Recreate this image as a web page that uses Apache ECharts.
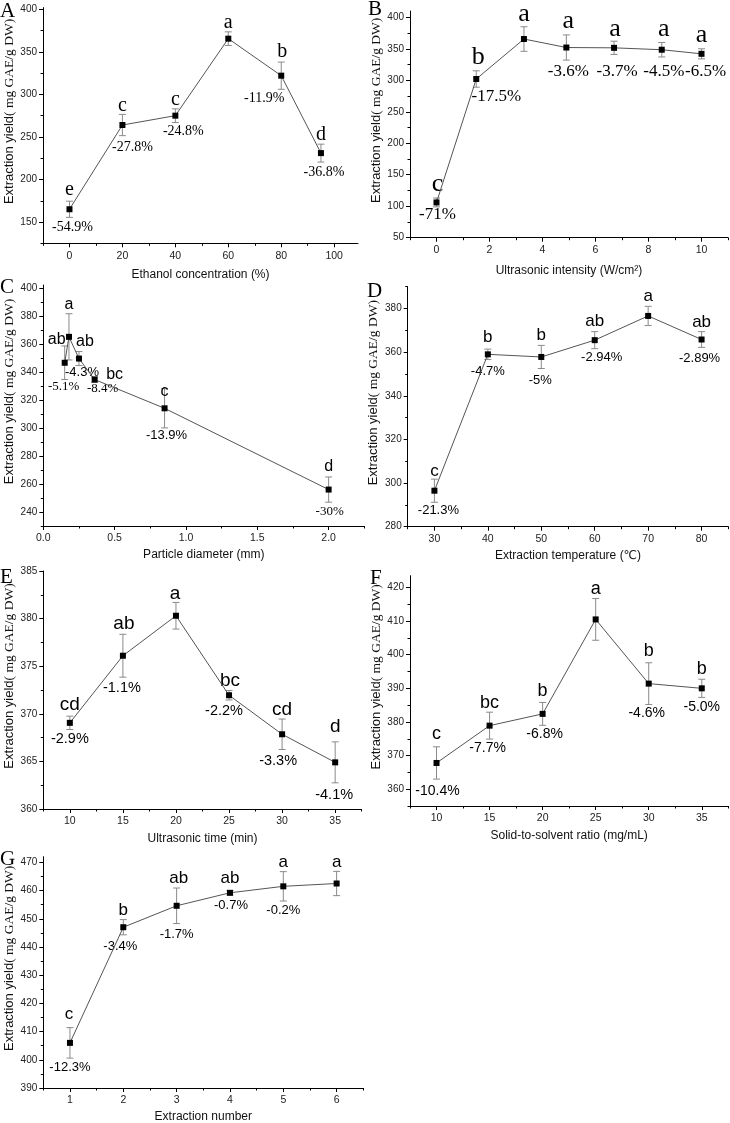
<!DOCTYPE html>
<html>
<head>
<meta charset="utf-8">
<script src="https://cdn.jsdelivr.net/npm/echarts@6/dist/echarts.min.js"></script>
<style>
  html, body { margin: 0; background: #fff; }
  #chart { width: 730px; height: 1123px; }
</style>
</head>
<body>
<div id="chart"></div>
<script>
// A – ethanol concentration
const ethanolConc = [0, 20, 40, 60, 80, 95]
const ethanolYield = [165, 264, 275, 365.5, 322, 231]
const ethanolSd = [9.5, 12.5, 8, 8, 16, 10.5]
const ethanolGroups = ["e", "c", "c", "a", "b", "d"]
const ethanolDrop = ["-54.9%", "-27.8%", "-24.8%", "", "-11.9%", "-36.8%"]

// B – ultrasonic intensity
const intensity = [0, 1.5, 3.3, 4.9, 6.7, 8.5, 10]
const intensityYield = [106, 302, 365.5, 352, 351.5, 348.5, 342]
const intensitySd = [7, 13, 19.5, 20, 10.5, 11.5, 8]
const intensityGroups = ["c", "b", "a", "a", "a", "a", "a"]
const intensityDrop = ["-71%", "-17.5%", "", "-3.6%", "-3.7%", "-4.5%", "-6.5%"]

// C – particle diameter
const diameter = [0.15, 0.18, 0.25, 0.36, 0.85, 2.0]
const diameterYield = [346.5, 365, 349.5, 334.5, 314, 256]
const diameterSd = [12, 16.5, 5, 2, 14, 9]
const diameterGroups = ["ab", "a", "ab", "bc", "c", "d"]
const diameterDrop = ["-5.1%", "", "-4.3%", "-8.4%", "-13.9%", "-30%"]

// D – extraction temperature
const temperature = [30, 40, 50, 60, 70, 80]
const temperatureYield = [296.5, 359, 357.8, 365.5, 376.6, 365.8]
const temperatureSd = [5.3, 2.4, 5.3, 3.9, 4.4, 3.6]
const temperatureGroups = ["c", "b", "b", "ab", "a", "ab"]
const temperatureDrop = ["-21.3%", "-4.7%", "-5%", "-2.94%", "", "-2.89%"]

// E – ultrasonic time
const sonicTime = [10, 15, 20, 25, 30, 35]
const sonicTimeYield = [369.05, 376.1, 380.3, 371.95, 367.85, 364.9]
const sonicTimeSd = [0.7, 2.25, 1.4, 0.5, 1.6, 2.15]
const sonicTimeGroups = ["cd", "ab", "a", "bc", "cd", "d"]
const sonicTimeDrop = ["-2.9%", "-1.1%", "", "-2.2%", "-3.3%", "-4.1%"]

// F – solid-to-solvent ratio
const ratio = [10, 15, 20, 25, 30, 35]
const ratioYield = [367.8, 378.9, 382.4, 410.5, 391.4, 390]
const ratioSd = [4.8, 4, 3.4, 6.2, 6.2, 2.7]
const ratioGroups = ["c", "bc", "b", "a", "b", "b"]
const ratioDrop = ["-10.4%", "-7.7%", "-6.8%", "", "-4.6%", "-5.0%"]

// G – extraction number
const extractions = [1, 2, 3, 4, 5, 6]
const extractionsYield = [406, 447, 454.6, 459.2, 461.5, 462.5]
const extractionsSd = [5.4, 2.7, 6.3, 0.8, 5.2, 4.3]
const extractionsGroups = ["c", "b", "ab", "ab", "a", "a"]
const extractionsDrop = ["-12.3%", "-3.4%", "-1.7%", "-0.7%", "-0.2%", ""]

const panelData = [
  { x: ethanolConc, y: ethanolYield, sd: ethanolSd, groups: ethanolGroups, drops: ethanolDrop },
  { x: intensity, y: intensityYield, sd: intensitySd, groups: intensityGroups, drops: intensityDrop },
  { x: diameter, y: diameterYield, sd: diameterSd, groups: diameterGroups, drops: diameterDrop },
  { x: temperature, y: temperatureYield, sd: temperatureSd, groups: temperatureGroups, drops: temperatureDrop },
  { x: sonicTime, y: sonicTimeYield, sd: sonicTimeSd, groups: sonicTimeGroups, drops: sonicTimeDrop },
  { x: ratio, y: ratioYield, sd: ratioSd, groups: ratioGroups, drops: ratioDrop },
  { x: extractions, y: extractionsYield, sd: extractionsSd, groups: extractionsGroups, drops: extractionsDrop },
]

const SANS = '"Liberation Sans", Arial, "DejaVu Sans", sans-serif'
const SERIF = '"Liberation Serif", "Times New Roman", "DejaVu Serif", serif'

// layout: grid boxes, axis ranges, label fonts and nudges [dx, gap]
const layout = [
  {
    tag: "A", tagAt: [0, 11],
    grid: { left: 43, top: 7.6, width: 315, height: 235.7 },
    x: [-10, 109, 0, 20], y: [125, 402, 150, 50],
    xName: "Ethanol concentration (%)", xGap: 25,
    letterFont: [SERIF, 20], dropFont: [SERIF, 14],
    letterNudge: [[0, 4], [0, 2], [0, 2], [0, 2], [1, 3], [0, 2]],
    dropNudge: [[3, 5], [10, 6], [8, 4], [0, 0], [-17, 4], [3, 5]],
  },
  {
    tag: "B", tagAt: [368, 9],
    grid: { left: 410, top: 11, width: 318, height: 226.7 },
    x: [-1, 11, 0, 2], y: [50, 410, 50, 50],
    xName: "Ultrasonic intensity (W/cm²)", xGap: 27,
    letterFont: [SERIF, 26], dropFont: [SERIF, 17],
    letterNudge: [[1, 5], [2, 5], [0, 3], [2, 5], [1, 3], [2, 4], [0, 5]],
    dropNudge: [[1, 1], [20, 3], [0, 0], [2, 5], [3, 11], [2, 8], [4, 6]],
  },
  {
    tag: "C", tagAt: [0, 287],
    grid: { left: 43.3, top: 285, width: 321, height: 241 },
    x: [0, 2.25, 0, 0.5], y: [230, 402, 240, 20], xDigits: 1,
    xName: "Particle diameter (mm)", xGap: 23,
    letterFont: [SANS, 16], dropFont: [SANS, 13],
    dropSerif: [true, false, false, true, false, true],
    letterNudge: [[-8, 1], [0, 4], [6, 4], [20, -3], [0, -9], [0, 5]],
    dropNudge: [[-1, 2], [0, 0], [3, 2], [8, 1], [2, 3], [1, 5]],
  },
  {
    tag: "D", tagAt: [367, 291],
    grid: { left: 407.7, top: 286.7, width: 320.6, height: 240 },
    x: [25, 85, 30, 10], y: [280, 390, 280, 20],
    xName: "Extraction temperature (℃)", xGap: 23,
    letterFont: [SANS, 17], dropFont: [SANS, 13],
    letterNudge: [[0, 2], [0, 6], [0, 4], [0, 4], [0, 4], [0, 3]],
    dropNudge: [[4, 3], [0, 7], [-1, 7], [7, 4], [0, 0], [-2, 6]],
  },
  {
    tag: "E", tagAt: [0, 577],
    grid: { left: 43.3, top: 571, width: 318.4, height: 238 },
    x: [7.5, 37.5, 10, 5], y: [360, 385, 360, 5],
    xName: "Ultrasonic time (min)", xGap: 24,
    letterFont: [SANS, 19], dropFont: [SANS, 14.5],
    letterNudge: [[0, 5], [1, 4], [-1, 2], [1, 3], [0, 3], [0, 8]],
    dropNudge: [[0, 4], [-1, 5], [0, 0], [-5, 5], [-4, 6], [-1, 7]],
  },
  {
    tag: "F", tagAt: [370, 578],
    grid: { left: 410, top: 575.7, width: 318.3, height: 230.3 },
    x: [7.5, 37.5, 10, 5], y: [355, 423.5, 360, 10],
    xName: "Solid-to-solvent ratio (mg/mL)", xGap: 24,
    letterFont: [SANS, 18], dropFont: [SANS, 14],
    letterNudge: [[0, 6], [0, 3], [0, 5], [0, 3], [0, 5], [0, 4]],
    dropNudge: [[1, 7], [-2, 4], [2, 4], [0, 0], [-2, 3], [0, 5]],
  },
  {
    tag: "G", tagAt: [0, 859],
    grid: { left: 43.3, top: 856.7, width: 320, height: 231.3 },
    x: [0.5, 6.5, 1, 1], y: [390, 472, 390, 10],
    xName: "Extraction number", xGap: 23,
    letterFont: [SANS, 17], dropFont: [SANS, 13],
    letterNudge: [[-1, 7], [0, 3], [2, 4], [0, 6], [0, 3], [0, 3]],
    dropNudge: [[0, 5], [-3, 7], [0, 6], [1, 6], [0, 5], [0, 0]],
  },
]

function majorTicks(first, max, step) {
  const out = []
  for (let v = first; v <= max + 1e-9; v += step) out.push(+v.toFixed(6))
  return out
}

function minorTicks(min, first, max, step) {
  let v = first - step / 2
  while (v - step >= min - 1e-9) v -= step
  const out = []
  for (; v <= max + 1e-9; v += step) if (v >= min - 1e-9) out.push(+v.toFixed(6))
  return out
}

function marksRenderer(p, d) {
  return function (params, api) {
    const i = params.dataIndex
    const x = api.value(0)
    const y = api.value(1)
    const sd = api.value(2)
    const top = api.coord([x, y + sd])
    const bot = api.coord([x, y - sd])
    const bar = { stroke: "#8a8a8a", lineWidth: 1 }
    const children = [
      { type: "line", shape: { x1: top[0], y1: top[1], x2: bot[0], y2: bot[1] }, style: bar },
      { type: "line", shape: { x1: top[0] - 3.5, y1: top[1], x2: top[0] + 3.5, y2: top[1] }, style: bar },
      { type: "line", shape: { x1: bot[0] - 3.5, y1: bot[1], x2: bot[0] + 3.5, y2: bot[1] }, style: bar },
    ]
    const [lf, ls] = p.letterFont
    const [ldx, lgap] = p.letterNudge[i]
    children.push({
      type: "text",
      x: top[0] + ldx,
      y: top[1] - lgap + 0.15 * ls,
      style: {
        text: d.groups[i], fontFamily: lf, fontSize: ls, fill: "#000",
        align: "center", verticalAlign: "bottom",
      },
    })
    if (d.drops[i]) {
      let [df, ds] = p.dropFont
      if (p.dropSerif) df = p.dropSerif[i] ? SERIF : SANS
      const [pdx, pgap] = p.dropNudge[i]
      children.push({
        type: "text",
        x: bot[0] + pdx,
        y: bot[1] + pgap - 0.13 * ds,
        style: {
          text: d.drops[i], fontFamily: df, fontSize: ds, fill: "#000",
          align: "center", verticalAlign: "top",
        },
      })
    }
    return { type: "group", children }
  }
}

const grids = []
const xAxes = []
const yAxes = []
const series = []
const graphic = []

layout.forEach((p, i) => {
  const d = panelData[i]
  const [xMin, xMax, xFirst, xStep] = p.x
  const [yMin, yMax, yFirst, yStep] = p.y
  const xMajor = majorTicks(xFirst, xMax, xStep)
  const yMajor = majorTicks(yFirst, yMax, yStep)
  grids.push({ ...p.grid, containLabel: false, outerBoundsMode: "none" })

  const line = { onZero: false, lineStyle: { color: "#000", width: 1 } }
  xAxes.push({
    gridIndex: i, type: "value", position: "bottom", min: xMin, max: xMax,
    name: p.xName, nameLocation: "middle", nameGap: p.xGap,
    nameTextStyle: { fontFamily: SANS, fontSize: 12, color: "#111" },
    axisLine: line,
    axisTick: { customValues: xMajor, length: 4, lineStyle: { color: "#000" } },
    axisLabel: {
      customValues: xMajor, margin: 7, color: "#222", fontFamily: SANS, fontSize: 10.5,
      formatter: (v) => (p.xDigits ? v.toFixed(p.xDigits) : String(v)),
    },
    splitLine: { show: false },
  })
  xAxes.push({
    gridIndex: i, type: "value", position: "bottom", min: xMin, max: xMax,
    axisLine: { show: false, onZero: false },
    axisTick: { customValues: minorTicks(xMin, xFirst, xMax, xStep), length: 2.5, lineStyle: { color: "#000" } },
    axisLabel: { show: false },
    splitLine: { show: false },
  })
  yAxes.push({
    gridIndex: i, type: "value", position: "left", min: yMin, max: yMax,
    name: "{a|Extraction yield}{b|( mg GAE/g DW)}",
    nameLocation: "middle", nameGap: 27,
    nameTextStyle: {
      padding: [0, 0, 0, 28],
      rich: {
        a: { fontFamily: SANS, fontSize: 13, color: "#111" },
        b: { fontFamily: SERIF, fontSize: 13.5, color: "#111" },
      },
    },
    axisLine: line,
    axisTick: { customValues: yMajor, length: 4, lineStyle: { color: "#000" } },
    axisLabel: { customValues: yMajor, margin: 6, color: "#222", fontFamily: SANS, fontSize: 10 },
    splitLine: { show: false },
  })
  yAxes.push({
    gridIndex: i, type: "value", position: "left", min: yMin, max: yMax,
    axisLine: { show: false, onZero: false },
    axisTick: { customValues: minorTicks(yMin, yFirst, yMax, yStep), length: 2.5, lineStyle: { color: "#000" } },
    axisLabel: { show: false },
    splitLine: { show: false },
  })

  const points = d.x.map((x, k) => [x, d.y[k], d.sd[k]])
  series.push({
    type: "custom",
    xAxisIndex: 2 * i,
    yAxisIndex: 2 * i,
    clip: false,
    silent: true,
    encode: { x: 0, y: 1 },
    data: points,
    renderItem: marksRenderer(p, d),
  })
  series.push({
    type: "line",
    xAxisIndex: 2 * i,
    yAxisIndex: 2 * i,
    data: points.map((pt) => [pt[0], pt[1]]),
    symbol: "rect",
    symbolSize: 6,
    itemStyle: { color: "#000" },
    lineStyle: { color: "#555", width: 1 },
    silent: true,
  })

  graphic.push({
    type: "text",
    x: p.tagAt[0],
    y: p.tagAt[1],
    style: {
      text: p.tag, fontFamily: SERIF, fontSize: 21, fill: "#000",
      align: "left", verticalAlign: "middle",
    },
  })
})

const chart = echarts.init(document.getElementById("chart"))
chart.setOption({
  animation: false,
  backgroundColor: "#fff",
  grid: grids,
  xAxis: xAxes,
  yAxis: yAxes,
  series,
  graphic,
})
</script>
</body>
</html>
